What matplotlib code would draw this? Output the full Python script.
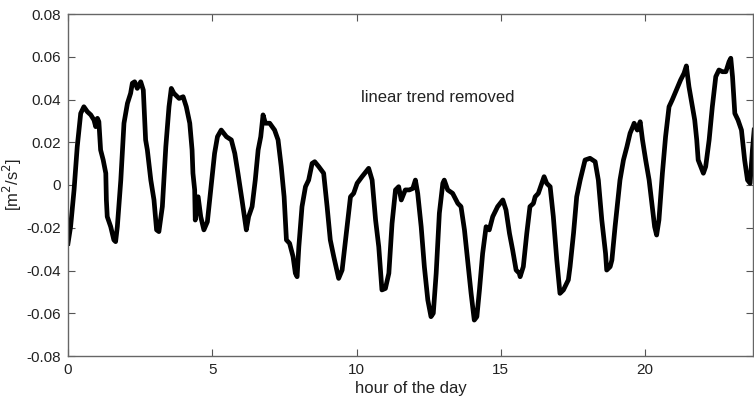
import matplotlib
matplotlib.use("Agg")
import matplotlib.pyplot as plt

hours = [0.00, 0.09, 0.21, 0.32, 0.44, 0.55, 0.67, 0.79, 0.90, 0.96, 1.02, 1.07, 1.13, 1.22, 1.31, 1.33,
         1.36, 1.48, 1.59, 1.65, 1.71, 1.83, 1.94, 2.06, 2.17, 2.23, 2.31, 2.40, 2.52, 2.61, 2.69, 2.75,
         2.87, 2.98, 3.07, 3.15, 3.27, 3.39, 3.50, 3.58, 3.67, 3.85, 3.99, 4.10, 4.22, 4.30, 4.33, 4.39,
         4.41, 4.51, 4.60, 4.71, 4.83, 4.97, 5.08, 5.18, 5.31, 5.49, 5.66, 5.78, 5.89, 6.03, 6.18, 6.26,
         6.38, 6.49, 6.59, 6.68, 6.76, 6.84, 6.99, 7.16, 7.28, 7.39, 7.49, 7.57, 7.68, 7.80, 7.88, 7.94,
         8.00, 8.11, 8.23, 8.34, 8.46, 8.55, 8.69, 8.86, 8.98, 9.09, 9.21, 9.38, 9.50, 9.67, 9.79, 9.90,
         10.02, 10.19, 10.42, 10.54, 10.66, 10.77, 10.88, 11.00, 11.12, 11.23, 11.35, 11.46, 11.55, 11.69,
         11.83, 11.95, 12.04, 12.12, 12.24, 12.35, 12.47, 12.58, 12.66, 12.76, 12.87, 12.99, 13.04, 13.16,
         13.33, 13.51, 13.62, 13.74, 13.85, 13.97, 14.08, 14.17, 14.26, 14.37, 14.49, 14.60, 14.72, 14.89,
         15.07, 15.18, 15.30, 15.41, 15.53, 15.64, 15.67, 15.78, 15.90, 16.01, 16.13, 16.19, 16.30, 16.42,
         16.50, 16.59, 16.71, 16.82, 16.94, 17.05, 17.17, 17.34, 17.40, 17.52, 17.63, 17.75, 17.92, 18.09,
         18.27, 18.38, 18.50, 18.63, 18.67, 18.79, 18.85, 18.96, 19.13, 19.25, 19.37, 19.48, 19.60, 19.62,
         19.73, 19.83, 19.91, 20.02, 20.14, 20.25, 20.33, 20.40, 20.48, 20.60, 20.71, 20.83, 20.94, 21.06,
         21.23, 21.35, 21.43, 21.52, 21.64, 21.72, 21.79, 21.84, 21.93, 22.02, 22.10, 22.22, 22.33, 22.45,
         22.56, 22.68, 22.80, 22.91, 22.97, 23.03, 23.11, 23.22, 23.34, 23.45, 23.55, 23.64, 23.72, 23.78]

values = [-0.0273, -0.0195, -0.0023, 0.0179, 0.0335, 0.0366, 0.0343, 0.0328, 0.0304, 0.0273, 0.0312, 0.0296, 0.0164, 0.0117, 0.0055, -0.0070,
          -0.0148, -0.0195, -0.0257, -0.0265, -0.0195, 0.0023, 0.0289, 0.0382, 0.0429, 0.0476, 0.0483, 0.0452, 0.0483, 0.0444, 0.0211, 0.0164,
          0.0023, -0.0070, -0.0210, -0.0218, -0.0101, 0.0179, 0.0366, 0.0452, 0.0429, 0.0405, 0.0413, 0.0366, 0.0289, 0.0164, 0.0055, -0.0023,
          -0.0164, -0.0055, -0.0148, -0.0210, -0.0172, 0.0008, 0.0148, 0.0226, 0.0257, 0.0226, 0.0211, 0.0148, 0.0055, -0.0070, -0.0210, -0.0148,
          -0.0101, 0.0023, 0.0164, 0.0226, 0.0328, 0.0289, 0.0289, 0.0257, 0.0211, 0.0086, -0.0055, -0.0257, -0.0273, -0.0335, -0.0413, -0.0429,
          -0.0289, -0.0101, -0.0008, 0.0023, 0.0101, 0.0109, 0.0086, 0.0055, -0.0101, -0.0257, -0.0335, -0.0437, -0.0398, -0.0195, -0.0055, -0.0039,
          0.0008, 0.0039, 0.0078, 0.0023, -0.0164, -0.0289, -0.0491, -0.0484, -0.0413, -0.0180, -0.0023, -0.0008, -0.0070, -0.0023,
          -0.0023, -0.0016, 0.0023, -0.0039, -0.0195, -0.0382, -0.0538, -0.0616, -0.0600, -0.0413, -0.0132, 0.0008, 0.0023, -0.0023,
          -0.0039, -0.0086, -0.0101, -0.0210, -0.0351, -0.0507, -0.0632, -0.0616, -0.0491, -0.0320, -0.0195, -0.0210, -0.0148, -0.0101,
          -0.0070, -0.0117, -0.0226, -0.0304, -0.0398, -0.0413, -0.0429, -0.0382, -0.0226, -0.0101, -0.0086, -0.0055, -0.0039, 0.0008,
          0.0039, 0.0008, -0.0008, -0.0148, -0.0351, -0.0507, -0.0491, -0.0444, -0.0382, -0.0226, -0.0055, 0.0023, 0.0117, 0.0125,
          0.0109, 0.0023, -0.0164, -0.0320, -0.0398, -0.0382, -0.0351, -0.0195, 0.0023, 0.0117, 0.0179, 0.0242, 0.0281, 0.0289,
          0.0257, 0.0296, 0.0211, 0.0117, 0.0023, -0.0101, -0.0195, -0.0234, -0.0164, 0.0055, 0.0226, 0.0366, 0.0398, 0.0437,
          0.0491, 0.0523, 0.0557, 0.0460, 0.0366, 0.0304, 0.0211, 0.0117, 0.0086, 0.0055, 0.0086, 0.0211, 0.0366, 0.0507,
          0.0538, 0.0530, 0.0530, 0.0577, 0.0593, 0.0507, 0.0335, 0.0304, 0.0257, 0.0117, 0.0023, 0.0008, 0.0164, 0.0257]

xticks = [0, 5, 10, 15, 20]
xticklabels = ["0", "5", "10", "15", "20"]
yticks = [-0.08, -0.06, -0.04, -0.02, 0, 0.02, 0.04, 0.06, 0.08]
yticklabels = ["-0.08", "-0.06", "-0.04", "-0.02", "0", "0.02", "0.04", "0.06", "0.08"]

plt.rcParams['font.family'] = ['Liberation Sans', 'DejaVu Sans']

fig = plt.figure(figsize=(7.54, 4.04), dpi=100)
ax = fig.add_axes([68/754, 1 - 356/404, (753 - 68)/754, (356 - 14)/404])
ax.plot(hours, values, color='black', lw=3.4, solid_joinstyle='round')
ax.set_xlim(0, 23.74)
ax.set_ylim(-0.08, 0.08)
ax.set_xticks(xticks)
ax.set_xticklabels(xticklabels)
ax.set_yticks(yticks)
ax.set_yticklabels(yticklabels)
ax.tick_params(direction='in', length=5, width=0.8, color='#555555', labelsize=11,
               top=True, right=True, labelcolor='#222222', pad=5)
for s in ax.spines.values():
    s.set_color('#666666')
    s.set_linewidth(1.0)
ax.set_xlabel('hour of the day', fontsize=12, color='#222222', labelpad=3)
ax.set_ylabel(r'[m$^2$/s$^2$]', fontsize=12, color='#222222', labelpad=2)
ax.text(438, 404 - 97, 'linear trend removed', transform=None, fontsize=12, color='#222222',
        ha='center', va='center')
fig.savefig('out.png', dpi=100)
